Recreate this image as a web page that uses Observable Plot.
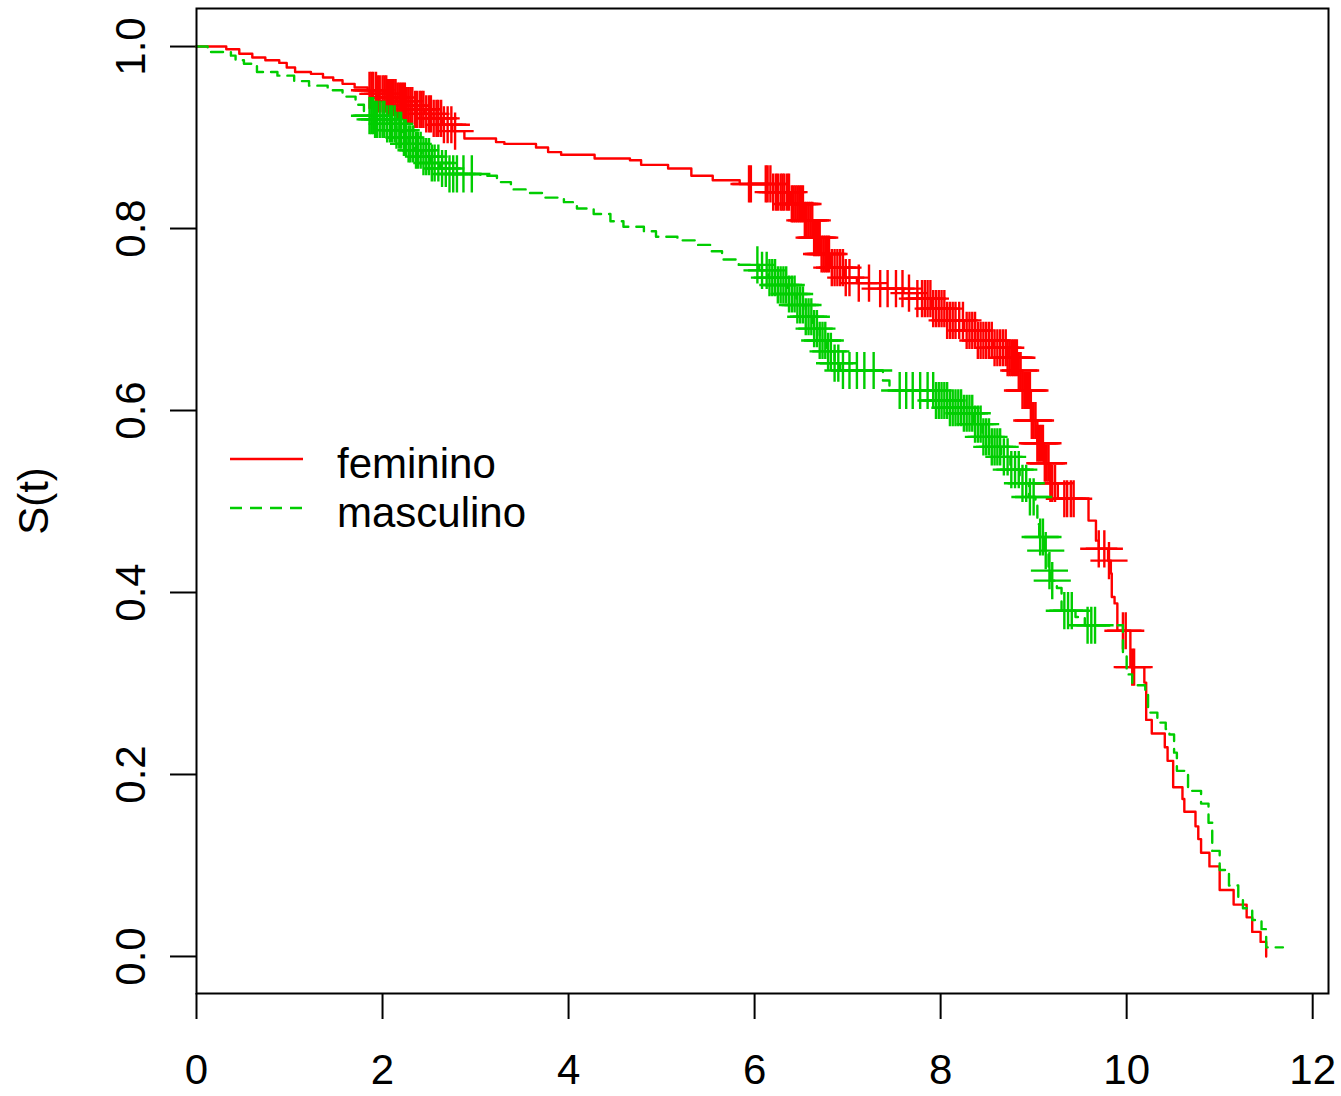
<!DOCTYPE html>
<html>
<head>
<meta charset="utf-8">
<script src="https://cdn.jsdelivr.net/npm/d3@7"></script>
<script src="https://cdn.jsdelivr.net/npm/@observablehq/plot@0.6"></script>
<style>
  html, body { margin: 0; padding: 0; background: #fff; }
  #wrap { position: relative; width: 1341px; height: 1096px; }
  #legend { position: absolute; left: 0; top: 0; }
</style>
</head>
<body>
<div id="wrap"></div>
<script>
// ---- data ----
const groups = ["feminino", "masculino"];
const colors = ["#FF0000", "#00CD00"];

const femTime = [0, 0.32, 0.46, 0.60, 0.74, 0.89, 0.97, 1.06, 1.23, 1.36, 1.47, 1.57, 1.70, 1.84,
  1.95, 2.05, 2.15, 2.25, 2.35, 2.45, 2.55, 2.65, 2.75, 2.88, 3.22, 3.31, 3.65, 3.78, 3.92, 4.28,
  4.66, 4.78, 5.07, 5.32, 5.55, 5.84, 6.20, 6.39, 6.53, 6.64, 6.71, 6.82, 6.96, 7.10, 7.35, 7.60,
  7.75, 7.90, 8.07, 8.25, 8.40, 8.57, 8.72, 8.83, 8.88, 8.97, 9.04, 9.11, 9.18, 9.26, 9.59, 9.67,
  9.70, 9.80, 9.83, 9.84, 9.87, 9.90, 10.04, 10.19, 10.21, 10.27, 10.41, 10.44, 10.50, 10.60, 10.62,
  10.74, 10.77, 10.80, 10.89, 11.00, 11.15, 11.29, 11.35, 11.44, 11.50];
const femSurv = [1.0, 0.997, 0.992, 0.988, 0.985, 0.982, 0.977, 0.972, 0.970, 0.966, 0.963, 0.959, 0.955, 0.952,
  0.948, 0.944, 0.940, 0.935, 0.931, 0.926, 0.921, 0.914, 0.907, 0.899, 0.895, 0.893, 0.889, 0.884, 0.881, 0.877,
  0.875, 0.870, 0.866, 0.858, 0.853, 0.849, 0.840, 0.827, 0.809, 0.790, 0.772, 0.757, 0.746, 0.740, 0.734, 0.729,
  0.723, 0.712, 0.699, 0.688, 0.677, 0.669, 0.658, 0.644, 0.622, 0.589, 0.564, 0.542, 0.520, 0.503, 0.479, 0.457,
  0.448, 0.435, 0.421, 0.395, 0.388, 0.358, 0.318, 0.301, 0.260, 0.245, 0.230, 0.215, 0.186, 0.173, 0.159,
  0.143, 0.129, 0.114, 0.099, 0.073, 0.057, 0.043, 0.027, 0.016, 0.0];

const mascTime = [0, 0.12, 0.37, 0.42, 0.51, 0.65, 0.87, 1.05, 1.21, 1.41, 1.57, 1.71, 1.80,
  1.92, 2.05, 2.15, 2.22, 2.28, 2.35, 2.42, 2.52, 2.62, 2.72, 3.05, 3.23, 3.38, 3.54, 3.75, 3.95,
  4.09, 4.27, 4.45, 4.59, 4.81, 4.94, 5.17, 5.37, 5.53, 5.65, 5.83, 6.05, 6.15, 6.25, 6.35, 6.45,
  6.55, 6.62, 6.70, 6.78, 6.86, 6.92, 7.38, 7.45, 7.95, 8.10, 8.25, 8.35, 8.45, 8.55, 8.65, 8.75,
  8.85, 8.95, 9.02, 9.04, 9.06, 9.12, 9.16, 9.18, 9.25, 9.30, 9.45, 9.55, 9.96, 10.00, 10.06, 10.20,
  10.23, 10.33, 10.42, 10.46, 10.51, 10.54, 10.66, 10.80, 10.88, 10.92, 11.00, 11.10, 11.20, 11.25,
  11.35, 11.45, 11.50, 11.68];
const mascSurv = [1.0, 0.994, 0.990, 0.985, 0.981, 0.972, 0.968, 0.962, 0.957, 0.952, 0.945, 0.936, 0.924,
  0.920, 0.915, 0.908, 0.900, 0.893, 0.886, 0.879, 0.872, 0.866, 0.860, 0.858, 0.851, 0.843, 0.839, 0.834, 0.829,
  0.822, 0.816, 0.808, 0.802, 0.797, 0.791, 0.787, 0.782, 0.775, 0.766, 0.760, 0.754, 0.746, 0.738, 0.728, 0.716,
  0.703, 0.690, 0.677, 0.665, 0.652, 0.644, 0.633, 0.622, 0.611, 0.603, 0.597, 0.585, 0.571, 0.560, 0.549, 0.535,
  0.520, 0.505, 0.497, 0.475, 0.461, 0.446, 0.424, 0.413, 0.405, 0.380, 0.373, 0.364, 0.330, 0.310, 0.298, 0.288,
  0.268, 0.257, 0.250, 0.244, 0.224, 0.204, 0.182, 0.168, 0.147, 0.116, 0.095, 0.078, 0.064, 0.053,
  0.040, 0.030, 0.010, 0.010];

// censoring times (marked with "+")
const femCensor = [1.86, 1.88, 1.90, 1.93, 1.95, 1.97, 2.00, 2.02, 2.04, 2.06, 2.08, 2.10, 2.12, 2.14, 2.16,
  2.18, 2.20, 2.22, 2.24, 2.26, 2.28, 2.30, 2.32, 2.35, 2.37, 2.40, 2.42, 2.44, 2.47, 2.50, 2.52, 2.55, 2.58,
  2.60, 2.63, 2.66, 2.70, 2.74, 2.78,
  5.94, 5.96, 6.12, 6.14, 6.17, 6.20, 6.23, 6.25, 6.28, 6.30, 6.32, 6.35, 6.37, 6.40, 6.42, 6.44, 6.46, 6.48,
  6.50, 6.52, 6.54, 6.56, 6.58, 6.60, 6.62, 6.64, 6.66, 6.68, 6.70, 6.72, 6.74, 6.76, 6.78, 6.80, 6.83, 6.86,
  6.89, 6.92, 6.95, 6.98, 7.02, 7.12, 7.23, 7.35, 7.43, 7.52, 7.59, 7.66, 7.75,
  7.80, 7.83, 7.86, 7.89, 7.92, 7.95, 7.98, 8.01, 8.04, 8.07, 8.10, 8.13, 8.16, 8.20, 8.24, 8.28, 8.31, 8.34,
  8.37, 8.40, 8.43, 8.46, 8.49, 8.52, 8.55, 8.58, 8.61, 8.64, 8.67, 8.70, 8.72, 8.74, 8.76, 8.78, 8.80, 8.82,
  8.84, 8.86, 8.88, 8.90, 8.92, 8.94, 8.96, 8.98, 9.00, 9.02, 9.04, 9.06, 9.08, 9.10, 9.12, 9.14, 9.16, 9.18,
  9.20, 9.23, 9.33, 9.36, 9.40, 9.43, 9.70, 9.76, 9.81, 9.96, 9.99, 10.06, 10.08];
const mascCensor = [1.86, 1.88, 1.90, 1.92, 1.94, 1.97, 2.00, 2.02, 2.05, 2.08, 2.10, 2.13, 2.15, 2.18, 2.20,
  2.23, 2.25, 2.28, 2.30, 2.33, 2.36, 2.38, 2.41, 2.44, 2.47, 2.50, 2.53, 2.56, 2.60, 2.64, 2.68, 2.72, 2.76,
  2.80, 2.87, 2.96,
  6.03, 6.08, 6.13, 6.16, 6.19, 6.22, 6.25, 6.28, 6.31, 6.34, 6.37, 6.40, 6.43, 6.46, 6.49, 6.52, 6.55, 6.58,
  6.61, 6.64, 6.67, 6.70, 6.73, 6.76, 6.79, 6.82, 6.86, 6.90, 6.95, 7.02, 7.10, 7.18, 7.28,
  7.56, 7.63, 7.70, 7.78, 7.86,
  7.92, 7.95, 7.98, 8.01, 8.04, 8.07, 8.10, 8.13, 8.16, 8.19, 8.22, 8.25, 8.28, 8.31, 8.34, 8.37, 8.40, 8.43,
  8.46, 8.49, 8.52, 8.55, 8.58, 8.61, 8.64, 8.68, 8.72, 8.76, 8.80, 8.84, 8.88, 8.92, 8.96, 9.00,
  9.07, 9.10, 9.13, 9.17, 9.20, 9.33, 9.37, 9.41, 9.58, 9.62, 9.66];

const xTicks = [0, 2, 4, 6, 8, 10, 12];
const yTicks = [0, 0.2, 0.4, 0.6, 0.8, 1.0];
const yLabel = "S(t)";

// ---- build tables ----
function stepAt(times, survs, t) {
  let s = survs[0];
  for (let i = 0; i < times.length; i++) { if (times[i] <= t) s = survs[i]; else break; }
  return s;
}
const curves = [
  femTime.map((t, i) => ({t, s: femSurv[i], g: groups[0]})),
  mascTime.map((t, i) => ({t, s: mascSurv[i], g: groups[1]}))
];
const marks = [
  femCensor.map(t => ({t, s: stepAt(femTime, femSurv, t), g: groups[0]})),
  mascCensor.map(t => ({t, s: stepAt(mascTime, mascSurv, t), g: groups[1]}))
];

const FONT = "'Liberation Sans', Arial, Helvetica, sans-serif";
const chart = Plot.plot({
  width: 1341,
  height: 1096,
  marginLeft: 196,
  marginRight: 13,
  marginTop: 8,
  marginBottom: 103,
  style: {fontFamily: FONT, fontSize: "42px", color: "black", background: "white"},
  x: {domain: [0, 12.17]},
  y: {domain: [-0.0407, 1.0418]},
  marks: [
    Plot.axisX({ticks: xTicks, tickSize: 26, tickPadding: 35, strokeWidth: 2, label: null, tickFormat: d => String(d)}),
    Plot.axisY({ticks: yTicks, tickSize: 26, tickPadding: 26, tickRotate: -90, strokeWidth: 2,
      tickFormat: d => d.toFixed(1), label: yLabel, labelAnchor: "center", labelArrow: "none", labelOffset: 178}),
    Plot.line(curves[0], {x: "t", y: "s", curve: "step-after", stroke: colors[0], strokeWidth: 2.4}),
    Plot.dot(marks[0], {x: "t", y: "s", symbol: "plus", r: 12, stroke: colors[0], strokeWidth: 2.4}),
    Plot.line(curves[1], {x: "t", y: "s", curve: "step-after", stroke: colors[1], strokeWidth: 2.4, strokeDasharray: "12,8"}),
    Plot.dot(marks[1], {x: "t", y: "s", symbol: "plus", r: 12, stroke: colors[1], strokeWidth: 2.4}),
    Plot.frame({stroke: "black", strokeWidth: 2})
  ]
});
const wrap = document.getElementById("wrap");
wrap.appendChild(chart);

// ---- legend (inside plot area, top-left) ----
const ns = "http://www.w3.org/2000/svg";
const lg = document.createElementNS(ns, "svg");
lg.setAttribute("id", "legend");
lg.setAttribute("width", 1341);
lg.setAttribute("height", 1096);
lg.style.pointerEvents = "none";
groups.forEach((name, i) => {
  const y = 459 + i * 49;
  const ln = document.createElementNS(ns, "line");
  ln.setAttribute("x1", 230); ln.setAttribute("x2", 303);
  ln.setAttribute("y1", y); ln.setAttribute("y2", y);
  ln.setAttribute("stroke", colors[i]); ln.setAttribute("stroke-width", 2.4);
  if (i === 1) ln.setAttribute("stroke-dasharray", "12,8");
  lg.appendChild(ln);
  const tx = document.createElementNS(ns, "text");
  tx.setAttribute("x", 337); tx.setAttribute("y", y + 19);
  tx.setAttribute("font-family", FONT); tx.setAttribute("font-size", 42);
  tx.textContent = name;
  lg.appendChild(tx);
});
wrap.appendChild(lg);
</script>
</body>
</html>
